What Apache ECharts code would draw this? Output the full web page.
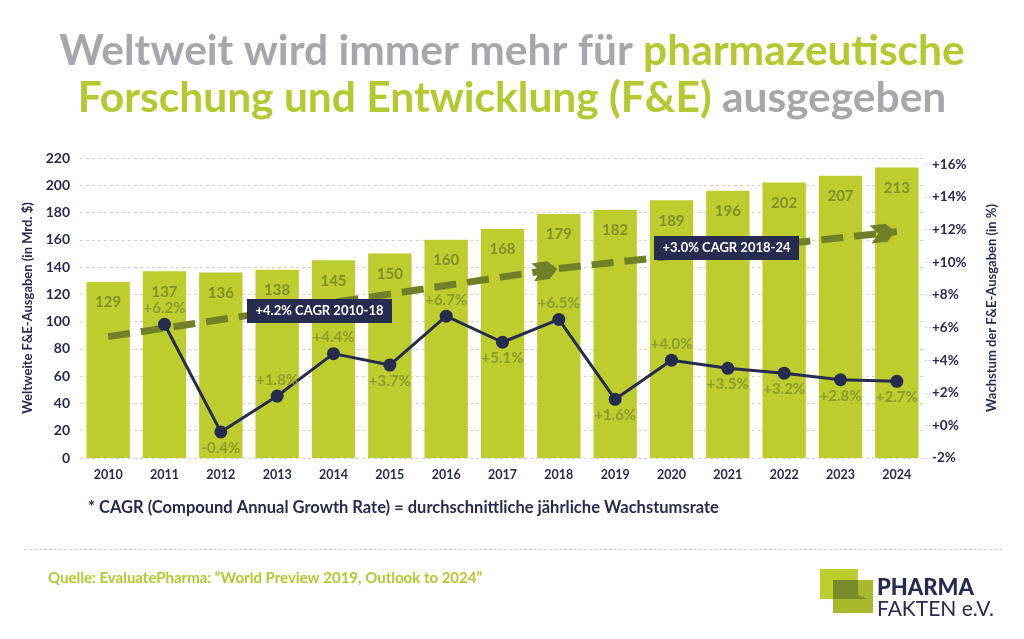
<!DOCTYPE html>
<html lang="de">
<head>
    <meta charset="UTF-8">
    <title>F&E-Ausgaben Pharma</title>
    <script src="https://cdn.jsdelivr.net/npm/echarts/dist/echarts.min.js"></script>
    <style>
        html, body { margin: 0; padding: 0; background: #fff; }
        #chart { width: 1024px; height: 639px; }
    </style>
</head>
<body>
    <div id="chart"></div>

    <script>
        const years = ['2010', '2011', '2012', '2013', '2014', '2015', '2016', '2017',
                       '2018', '2019', '2020', '2021', '2022', '2023', '2024'];
        const spending = [129, 137, 136, 138, 145, 150, 160, 168, 179, 182, 189, 196, 202, 207, 213];
        const growth = [null, 6.2, -0.4, 1.8, 4.4, 3.7, 6.7, 5.1, 6.5, 1.6, 4.0, 3.5, 3.2, 2.8, 2.7];
        // which growth labels sit above the point (the rest go below)
        const growthLabelAbove = [false, true, false, true, true, false, true, false, true, false, true, false, false, false, false];
        // CAGR trend arrows (levels on the left axis)
        const trendYears = ['2010', '2018', '2024'];
        const trendLevels = [89, 139, 166];
        const cagrLabels = ['+4.2% CAGR 2010-18', '+3.0% CAGR 2018-24'];

        const GREEN = '#bccd2d';
        const TITLE_GREEN = '#b5c82f';
        const OLIVE = '#808f29';
        const ARROW = '#737f27';
        const NAVY = '#262b4f';
        const GREY = '#a5a7aa';
        const FONT = 'Lato, "Open Sans", sans-serif';

        // chevron pointing "up"; markLine rotates it along the line
        const chevron = 'path://M0,25 L9,17 L18,25 L18,9 L9,0 L0,9 Z';

        function pct(v) {
            if (!Number.isInteger(v)) return '';
            return (v >= 0 ? '+' : '') + v + '%';
        }

        const chart = echarts.init(document.getElementById('chart'));

        const growthData = growth.map((v, i) => ({
            value: v,
            label: { position: growthLabelAbove[i] ? 'top' : 'bottom' }
        }));

        function cagrBox(left, top, text) {
            return {
                type: 'group', left: left, top: top, z: 100,
                children: [
                    { type: 'rect', z: 100, shape: { width: 145, height: 24 }, style: { fill: NAVY } },
                    { type: 'text', z: 101, x: 72.5, y: 12, style: { text: text, fill: '#fff', font: 'bold 13px ' + FONT, align: 'center', verticalAlign: 'middle' } }
                ]
            };
        }

        chart.setOption({
            textStyle: { fontFamily: FONT },
            title: {
                left: 'center',
                top: 23,
                text: '{g|Weltweit wird immer mehr für }{a|pharmazeutische}\n{a|Forschung und Entwicklung (F&E)}{g| ausgegeben}',
                textStyle: {
                    rich: {
                        g: { fontFamily: FONT, fontSize: 42.5, fontWeight: 'bold', color: GREY, lineHeight: 47 },
                        a: { fontFamily: FONT, fontSize: 42.5, fontWeight: 'bold', color: TITLE_GREEN, lineHeight: 47 }
                    }
                }
            },
            grid: { left: 80, right: 99, top: 158, bottom: 181 },
            xAxis: {
                type: 'category',
                data: years,
                axisLine: { show: false },
                axisTick: { show: false },
                axisLabel: { color: NAVY, fontWeight: 'bold', fontSize: 12.5, margin: 10 }
            },
            yAxis: [
                {
                    type: 'value',
                    min: 0, max: 220, interval: 20,
                    name: 'Weltweite F&E-Ausgaben (in Mrd. $)',
                    nameLocation: 'middle',
                    nameGap: 45,
                    nameTextStyle: { color: NAVY, fontWeight: 'bold', fontSize: 13 },
                    axisLabel: { color: NAVY, fontWeight: 'bold', fontSize: 14, margin: 10 },
                    splitLine: { lineStyle: { color: '#d4d4d4', type: [3, 3] } }
                },
                {
                    type: 'value',
                    min: -2, max: 16.4, interval: 2,
                    position: 'right',
                    name: 'Wachstum der F&E-Ausgaben (in %)',
                    nameLocation: 'middle',
                    nameGap: 60,
                    nameTextStyle: { color: NAVY, fontWeight: 'bold', fontSize: 13 },
                    axisLine: { show: false },
                    axisTick: { show: true, length: 10, lineStyle: { color: '#cfcfcf', type: [2, 2] } },
                    axisLabel: { color: NAVY, fontWeight: 'bold', fontSize: 13.5, margin: 7, formatter: pct, showMaxLabel: false },
                    splitLine: { show: false }
                }
            ],
            series: [
                {
                    name: 'Ausgaben',
                    type: 'bar',
                    data: spending,
                    barCategoryGap: '23%',
                    itemStyle: { color: GREEN },
                    label: {
                        show: true,
                        position: 'insideTop',
                        distance: 13,
                        color: OLIVE,
                        fontWeight: 'bold',
                        fontSize: 15
                    },
                    markLine: {
                        silent: true,
                        symbol: ['none', chevron],
                        symbolSize: [18, 25],
                        symbolOffset: [0, [0, 14]],
                        label: { show: false },
                        lineStyle: { color: ARROW, width: 7, type: [22, 11], opacity: 1 },
                        data: [
                            [{ coord: [trendYears[0], trendLevels[0]] }, { coord: [trendYears[1], trendLevels[1]] }],
                            [{ coord: [trendYears[1], trendLevels[1]] }, { coord: [trendYears[2], trendLevels[2]] }]
                        ],
                        z: 5
                    }
                },
                {
                    name: 'Wachstum',
                    type: 'line',
                    yAxisIndex: 1,
                    data: growthData,
                    symbol: 'circle',
                    symbolSize: 13,
                    lineStyle: { color: NAVY, width: 3 },
                    itemStyle: { color: NAVY },
                    label: {
                        show: true,
                        distance: 2,
                        color: '#8c9c2e',
                        fontSize: 15,
                        fontWeight: 'bold',
                        formatter: p => (p.value >= 0 ? '+' : '') + p.value.toFixed(1) + '%'
                    },
                    z: 10
                }
            ],
            graphic: [
                cagrBox(247, 299, cagrLabels[0]),
                cagrBox(654, 236, cagrLabels[1]),
                // footnote
                {
                    type: 'text', left: 88, top: 499,
                    style: { text: '* CAGR (Compound Annual Growth Rate) = durchschnittliche jährliche Wachstumsrate', fill: NAVY, font: 'bold 16.5px ' + FONT }
                },
                // dotted separator
                {
                    type: 'line', left: 22, top: 547,
                    shape: { x1: 0, y1: 0, x2: 980, y2: 0 },
                    style: { stroke: '#bdbdbd', lineWidth: 1, lineDash: [2, 3] }
                },
                // source
                {
                    type: 'text', left: 48, top: 571,
                    style: { text: 'Quelle: EvaluatePharma: \u201cWorld Preview 2019, Outlook to 2024\u201d', fill: TITLE_GREEN, font: 'bold 15px ' + FONT }
                },
                // logo
                {
                    type: 'group', left: 820, top: 569,
                    children: [
                        { type: 'rect', shape: { x: 0, y: 0, width: 38, height: 30 }, style: { fill: '#bccd2d' } },
                        { type: 'polygon', shape: { points: [[13, 11], [53, 11], [53, 44], [13, 44]] }, style: { fill: '#a9b92c' } },
                        { type: 'polygon', shape: { points: [[13, 11], [38, 11], [38, 26], [47, 30], [38, 30], [13, 30]] }, style: { fill: '#7a8a2a' } },
                        { type: 'text', x: 57, y: 8, style: { text: 'PHARMA', fill: NAVY, font: '900 22px ' + FONT } },
                        { type: 'text', x: 57, y: 30, style: { text: 'FAKTEN e.V.', fill: NAVY, font: '21px ' + FONT } }
                    ]
                }
            ]
        });
    </script>
</body>
</html>
